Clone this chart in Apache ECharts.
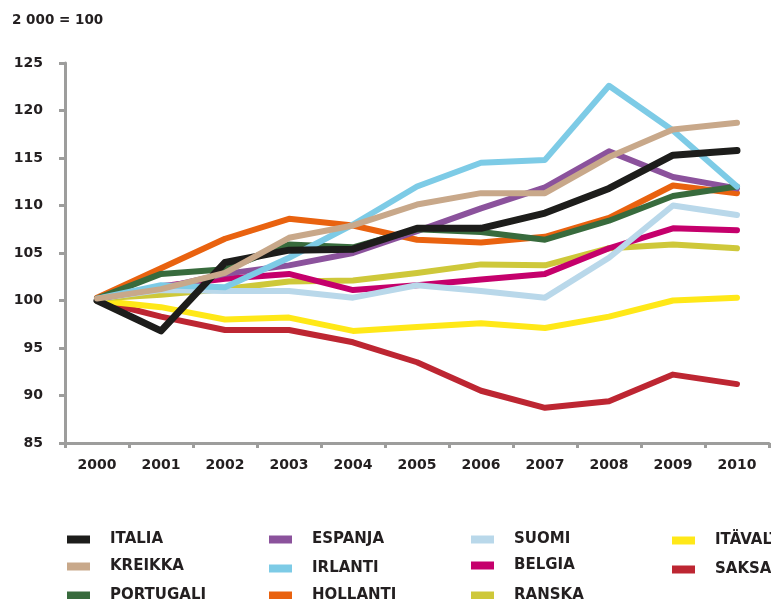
<!DOCTYPE html>
<html>
<head>
<meta charset="utf-8">
<script src="https://cdn.jsdelivr.net/npm/echarts@6/dist/echarts.min.js"></script>
<style>
html,body{margin:0;padding:0;background:#fff;}
#c{width:771px;height:599px;}
</style>
</head>
<body>
<div id="c"></div>
<script>
var years = ['2000','2001','2002','2003','2004','2005','2006','2007','2008','2009','2010'];
var unitLabel = '2 000 = 100';

var italia    = [100.0, 96.8, 104.0, 105.3, 105.4, 107.6, 107.6, 109.2, 111.8, 115.3, 115.8];
var kreikka   = [100.2, 101.2, 102.9, 106.6, 107.9, 110.1, 111.3, 111.3, 115.1, 118.0, 118.7];
var portugali = [100.2, 102.8, 103.3, 105.9, 105.6, 107.5, 107.2, 106.4, 108.4, 111.0, 112.0];
var espanja   = [100.2, 101.3, 102.8, 103.7, 105.0, 107.3, 109.7, 111.9, 115.7, 113.0, 111.8];
var irlanti   = [100.2, 101.6, 101.4, 104.5, 108.0, 112.0, 114.5, 114.8, 122.6, 117.9, 112.0];
var hollanti  = [100.3, 103.4, 106.5, 108.6, 107.9, 106.4, 106.1, 106.7, 108.7, 112.1, 111.3];
var suomi     = [100.2, 101.1, 101.0, 101.0, 100.3, 101.6, 101.0, 100.3, 104.5, 110.0, 109.0];
var belgia    = [100.2, 101.5, 102.3, 102.8, 101.1, 101.6, 102.2, 102.8, 105.5, 107.6, 107.4];
var ranska    = [100.2, 100.6, 101.2, 102.0, 102.1, 102.9, 103.8, 103.7, 105.5, 105.9, 105.5];
var itavalta  = [100.0, 99.3, 98.0, 98.2, 96.8, 97.2, 97.6, 97.1, 98.3, 100.0, 100.3];
var saksa     = [100.0, 98.3, 96.9, 96.9, 95.6, 93.5, 90.5, 88.7, 89.4, 92.2, 91.2];

var yTicks = [85, 90, 95, 100, 105, 110, 115, 120, 125];

var seriesDefs = [
  {name:'SAKSA', data:saksa, color:'#bd2632'},
  {name:'ITÄVALTA', data:itavalta, color:'#ffe818'},
  {name:'RANSKA', data:ranska, color:'#cec83a'},
  {name:'BELGIA', data:belgia, color:'#c5006c'},
  {name:'SUOMI', data:suomi, color:'#b9d8ea'},
  {name:'HOLLANTI', data:hollanti, color:'#e9620f'},
  {name:'ESPANJA', data:espanja, color:'#8b529c'},
  {name:'PORTUGALI', data:portugali, color:'#386b3d'},
  {name:'IRLANTI', data:irlanti, color:'#7dcbe6'},
  {name:'ITALIA', data:italia, color:'#1d1d1b', width:7},
  {name:'KREIKKA', data:kreikka, color:'#c8a88a'}
];

var legendOrder = ['ITALIA','KREIKKA','PORTUGALI','ESPANJA','IRLANTI','HOLLANTI','SUOMI','BELGIA','RANSKA','ITÄVALTA','SAKSA'];
var legendX = [67, 67, 67, 269, 269, 269, 471, 471, 471, 672, 672];
var legendY = [538, 565, 594, 538, 567, 594, 538, 564, 594, 539, 568];

var legends = legendOrder.map(function(n, i){
  return {
    data:[n], left:legendX[i], top:legendY[i]-6, orient:'horizontal',
    icon:'rect', itemWidth:23, itemHeight:8, padding:0,
    selectedMode:false,
    textStyle:{fontFamily:'DejaVu Sans', fontWeight:'bold', fontSize:15, color:'#231f20', padding:[0,0,0,15]}
  };
});

var chart = echarts.init(document.getElementById('c'), null, {renderer:'canvas'});
chart.setOption({
  animation:false,
  backgroundColor:'#fff',
  title:{text:unitLabel, left:12, top:13, padding:0,
    textStyle:{fontFamily:'DejaVu Sans', fontWeight:'bold', fontSize:13.5, color:'#231f20'}},
  legend:legends,
  grid:{left:65, right:2, top:63, bottom:156, containLabel:false},
  xAxis:{
    type:'category', data:years, boundaryGap:true,
    axisLine:{lineStyle:{color:'#9d9d9c', width:3}},
    axisTick:{show:true, length:5, lineStyle:{color:'#9d9d9c', width:3}},
    axisLabel:{margin:15, fontFamily:'DejaVu Sans', fontWeight:'bold', fontSize:14, color:'#231f20'}
  },
  yAxis:{
    type:'value', min:yTicks[0], max:yTicks[yTicks.length-1], interval:5,
    axisLine:{show:true, lineStyle:{color:'#9d9d9c', width:3}},
    axisTick:{show:true, length:6, lineStyle:{color:'#9d9d9c', width:3}},
    splitLine:{show:false},
    axisLabel:{margin:22, fontFamily:'DejaVu Sans', fontWeight:'bold', fontSize:14, color:'#231f20'}
  },
  series:seriesDefs.map(function(s){
    return {
      name:s.name, type:'line', data:s.data, symbol:'none', smooth:false,
      color:s.color,
      lineStyle:{color:s.color, width:s.width||6, cap:'round', join:'round'},
      itemStyle:{color:s.color}
    };
  })
});
</script>
</body>
</html>
